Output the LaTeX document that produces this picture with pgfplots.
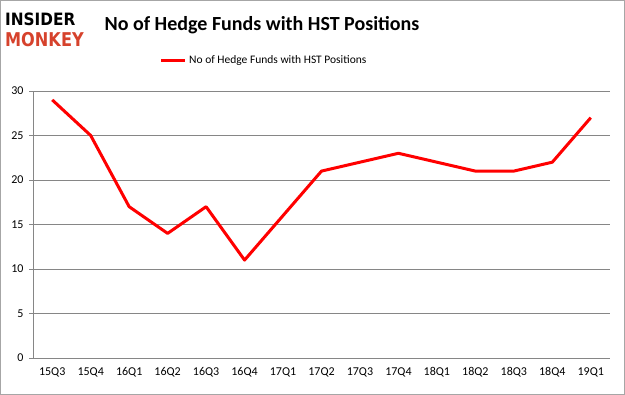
\documentclass[border=0pt]{standalone}
\usepackage{pgfplots}
\pgfplotsset{compat=1.18}
\usepackage{fontspec}
\setmainfont{Carlito}
\newfontfamily\logofont{DejaVu Sans}
\definecolor{gridgray}{RGB}{134,134,134}
\definecolor{monkeyred}{RGB}{214,66,44}
\begin{document}
\begin{tikzpicture}[x=1pt,y=1pt]
\draw[gray!70, line width=1pt] (0.5,0.5) rectangle (624.5,394.5);
\path[use as bounding box] (0,0) rectangle (625,395);
% logo
\node[anchor=west, inner sep=0, font=\logofont\bfseries\fontsize{17}{17}\selectfont, xscale=0.9] at (5,376) {INSIDER};
\node[anchor=west, inner sep=0, font=\logofont\bfseries\fontsize{19}{19}\selectfont, text=monkeyred, xscale=0.85] at (5,355) {MONKEY};
% title
\node[font=\bfseries\fontsize{20}{20}\selectfont] at (262,370) {No of Hedge Funds with HST Positions};
% legend
\draw[red, line width=3pt] (161,334) -- (185,334);
\node[anchor=west, inner sep=0, font=\fontsize{11.5}{11.5}\selectfont] at (189,334) {No of Hedge Funds with HST Positions};
\begin{axis}[
  at={(33pt,37pt)}, anchor=south west,
  scale only axis, width=577pt, height=267pt,
  xmin=-0.5, xmax=14.5, ymin=0, ymax=30,
  ytick={0,5,...,30},
  xtick={0,...,14},
  xticklabels={15Q3,15Q4,16Q1,16Q2,16Q3,16Q4,17Q1,17Q2,17Q3,17Q4,18Q1,18Q2,18Q3,18Q4,19Q1},
  extra x ticks={-0.5,0.5,...,14.5}, extra x tick labels={},
  extra x tick style={major tick length=4pt, tick style={gridgray}, tick align=outside, grid=none},
  major x tick style={draw=none},
  ymajorgrids, grid style={gridgray, line width=0.6pt},
  axis x line*=bottom, axis y line*=left,
  axis line style={gridgray, line width=0.6pt},
  ytick style={gridgray}, tick align=outside, major tick length=4pt,
  ticklabel style={font=\fontsize{12}{12}\selectfont},
  /pgf/number format/assume math mode=true,
  yticklabel style={xshift=-2pt},
  xticklabel style={yshift=-2pt},
  separate axis lines,
  x axis line style={-}, y axis line style={-},
]
\addplot[red, line width=3pt, line join=round] coordinates {
(0,29) (1,25) (2,17) (3,14) (4,17) (5,11) (6,16) (7,21) (8,22) (9,23) (10,22) (11,21) (12,21) (13,22) (14,27)};
\end{axis}
\end{tikzpicture}
\end{document}
